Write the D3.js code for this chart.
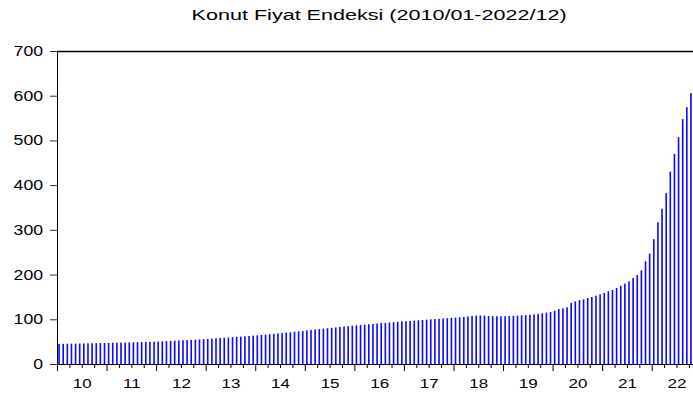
<!DOCTYPE html>
<html>
<head>
<meta charset="utf-8">
<script src="https://cdn.jsdelivr.net/npm/d3@7"></script>
<style>
  html, body { margin: 0; padding: 0; background: #fff; overflow: hidden; }
  svg { display: block; overflow: hidden; }
  text { font-family: "Liberation Sans", Arial, sans-serif; fill: #000; }
</style>
</head>
<body>
<svg id="chart" width="693" height="396"></svg>
<script>
// Housing price index, monthly, 2010/01 - 2022/12
const title = "Konut Fiyat Endeksi (2010/01-2022/12)";
const yearLabels = ["10", "11", "12", "13", "14", "15", "16", "17", "18", "19", "20", "21", "22"];
const yTicks = [0, 100, 200, 300, 400, 500, 600, 700];
const kfe2010 = [44.9, 45.1, 45.3, 45.5, 45.6, 45.8, 45.9, 46.1, 46.3, 46.5, 46.7, 46.9];
const kfe2011 = [47.1, 47.3, 47.6, 47.8, 48.1, 48.3, 48.6, 48.8, 49.0, 49.3, 49.5, 49.8];
const kfe2012 = [50.2, 50.7, 51.2, 51.7, 52.2, 52.7, 53.1, 53.5, 54.0, 54.5, 55.0, 55.5];
const kfe2013 = [56.1, 56.7, 57.4, 58.0, 58.6, 59.3, 59.9, 60.5, 61.2, 61.9, 62.6, 63.4];
const kfe2014 = [64.2, 65.0, 65.8, 66.6, 67.5, 68.3, 69.2, 70.1, 71.0, 72.0, 73.0, 74.1];
const kfe2015 = [75.2, 76.2, 77.2, 78.1, 79.0, 79.9, 80.8, 81.8, 82.8, 83.8, 84.8, 85.8];
const kfe2016 = [86.6, 87.4, 88.2, 88.9, 89.6, 90.4, 91.2, 92.0, 92.8, 93.6, 94.4, 95.2];
const kfe2017 = [95.9, 96.5, 97.1, 97.8, 98.5, 99.2, 99.9, 100.5, 101.1, 101.8, 102.5, 103.2];
const kfe2018 = [103.9, 104.6, 105.4, 106.4, 107.6, 108.3, 108.5, 108.1, 107.5, 106.9, 106.8, 106.8];
const kfe2019 = [106.9, 107.2, 107.7, 108.2, 108.8, 109.4, 110.1, 111.0, 112.1, 113.4, 114.8, 116.5];
const kfe2020 = [119.3, 123.0, 124.5, 126.7, 136.4, 140.1, 143.1, 144.6, 147.6, 149.8, 152.8, 155.8];
const kfe2021 = [158.8, 162.6, 165.6, 170.1, 175.2, 179.7, 184.9, 192.4, 199.1, 209.5, 229.6, 246.8];
const kfe2022 = [279.0, 317.0, 347.0, 382.0, 430.4, 470.0, 507.3, 547.6, 574.5, 605.8, 625.0, 643.0];

const values = [].concat(kfe2010, kfe2011, kfe2012, kfe2013, kfe2014, kfe2015, kfe2016,
  kfe2017, kfe2018, kfe2019, kfe2020, kfe2021, kfe2022);
const n = values.length;

const svg = d3.select("#chart");
const plotLeft = 57, plotTop = 51, plotBottom = 364;
const step = 4.13;
const plotRight = plotLeft + n * step;
const hStretch = 1.26;

const x = d3.scaleBand()
  .domain(d3.range(n))
  .range([plotLeft, plotRight])
  .paddingInner(0.61)
  .paddingOuter(0.305);
const xm = d3.scaleLinear().domain([0, n]).range([plotLeft, plotRight]);
const y = d3.scaleLinear().domain([0, 700]).range([plotBottom, plotTop]);

// bars
svg.append("g")
  .selectAll("rect")
  .data(values)
  .join("rect")
  .attr("x", (d, i) => x(i))
  .attr("width", x.bandwidth())
  .attr("y", d => y(d))
  .attr("height", d => y(0) - y(d))
  .attr("fill", "#0a0aff");

// frame: top line
svg.append("line")
  .attr("x1", plotLeft).attr("x2", plotRight)
  .attr("y1", plotTop + 0.5).attr("y2", plotTop + 0.5)
  .attr("stroke", "#000").attr("stroke-width", 1.3);

// y axis
const yAxis = svg.append("g")
  .attr("transform", `translate(${plotLeft},0)`)
  .call(d3.axisLeft(y).tickValues(yTicks).tickSize(7).tickPadding(7).tickSizeOuter(0));
yAxis.select(".domain").attr("stroke", "#000");
yAxis.selectAll(".tick line").attr("stroke", "#333");
yAxis.selectAll(".tick text")
  .style("font-size", "14px")
  .attr("font-family", null)
  .each(function() {
    const t = d3.select(this);
    const tx = +t.attr("x");
    t.attr("x", 0).attr("transform", `translate(${tx},0) scale(${hStretch},1)`);
  });

// x axis: quarterly minor ticks, yearly major ticks
const quarters = d3.range(0, n + 1, 3).filter(q => q % 12 !== 0);
const yearsStart = d3.range(0, n + 1, 12);
const xMinor = svg.append("g")
  .attr("transform", `translate(0,${plotBottom})`)
  .call(d3.axisBottom(xm).tickValues(quarters).tickSize(4).tickFormat(""));
xMinor.select(".domain").remove();
const xMajor = svg.append("g")
  .attr("transform", `translate(0,${plotBottom})`)
  .call(d3.axisBottom(xm).tickValues(yearsStart).tickSize(7).tickFormat("").tickSizeOuter(0));
xMajor.select(".domain").attr("stroke", "#000");
xMinor.selectAll(".tick line").attr("stroke", "#000");
xMajor.selectAll(".tick line").attr("stroke", "#000");

// year labels centred on each year
const xLabels = svg.append("g")
  .attr("transform", `translate(0,${plotBottom})`)
  .call(d3.axisBottom(xm)
    .tickValues(yearLabels.map((_, k) => k * 12 + 6))
    .tickFormat((d, k) => yearLabels[k])
    .tickSize(0));
xLabels.select(".domain").remove();
xLabels.selectAll(".tick text")
  .style("font-size", "13.5px")
  .attr("font-family", null)
  .attr("dy", null)
  .attr("y", 0)
  .attr("transform", `translate(0,24.3) scale(${hStretch},1)`);

// title
svg.append("text")
  .attr("x", (plotLeft + plotRight) / 2)
  .attr("y", 20.3)
  .attr("text-anchor", "middle")
  .attr("textLength", 375)
  .attr("lengthAdjust", "spacingAndGlyphs")
  .style("font-size", "15.5px")
  .text(title);
</script>
</body>
</html>
